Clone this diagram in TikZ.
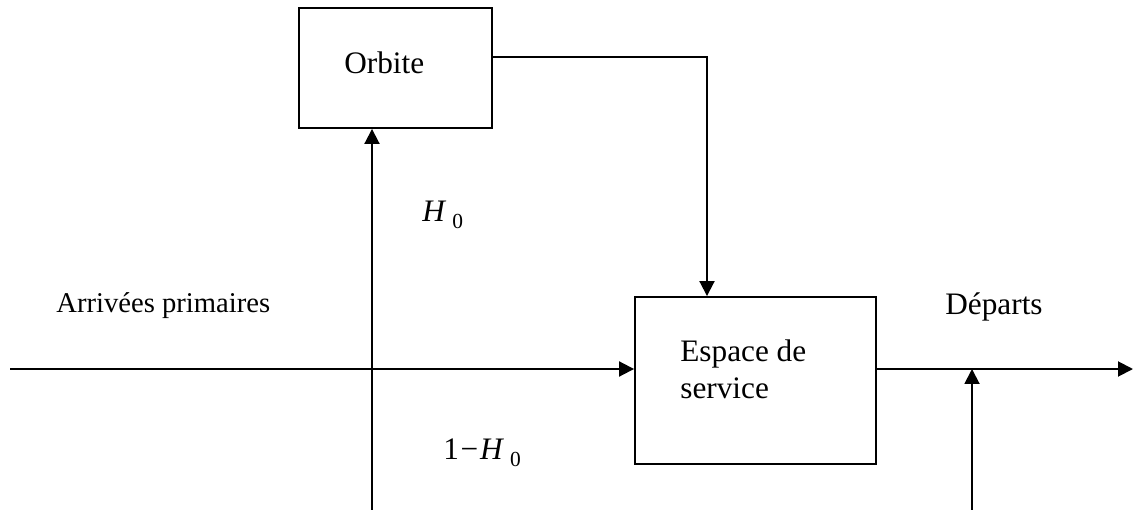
\documentclass[tikz,border=0pt]{standalone}
\usepackage{fontspec}
\setmainfont{Liberation Serif}
\usetikzlibrary{arrows.meta}

% subscript zero, set lower and smaller than the letter
\newcommand{\subzero}{\hspace{3.4pt}\raisebox{-4pt}{\fontsize{12.2}{12.2}\selectfont 0}}

\begin{document}
\begin{tikzpicture}[x=0.02cm, y=-0.02cm,
    lw/.style={line width=1.1pt},
    block/.style={draw, lw, rectangle, inner sep=0pt},
    txt/.style={anchor=base west, inner sep=0pt, font=\fontsize{17.8}{21}\selectfont},
    flow/.style={lw, -{Triangle[width=0.3cm, length=0.3cm]}},
    wire/.style={lw}]
  \useasboundingbox (0,0) rectangle (1133,510);

  % blocks
  \node[block, minimum width=3.86cm, minimum height=2.4cm] (orbite) at (395.5,68) {};
  \node[block, minimum width=4.82cm, minimum height=3.34cm] (espace) at (755.5,380.5) {};

  % block texts
  \node[txt] (orbiteText) at (344,74) {Orbite};
  \node[txt] (espaceText1) at (680,361) {Espace de};
  \node[txt] (espaceText2) at (680,398) {service};

  % flow labels
  \node[txt, font=\fontsize{16.3}{20}\selectfont] (arrivees) at (56,312) {Arrivées primaires};
  \node[txt] (departs) at (945,314) {Départs};
  \node[txt] (hzero) at (422,221) {\textit{H}\subzero};
  \node[txt] (unmoins) at (443,459) {1\kern1pt−\kern1pt\textit{H}\subzero};

  % free ends of the connectors
  \coordinate (inL) at (10,369);
  \coordinate (outR) at (1133,369);
  \coordinate (upA) at (372,510);
  \coordinate (upB) at (972,510);
  \coordinate (ret) at (707,57);

  % primary arrivals into the service space
  \draw[flow] (inL) -- (inL -| espace.west);
  % departures
  \draw[flow] (espace.east |- outR) -- (outR);
  % branch towards the orbit
  \draw[flow] (upA) -- (upA |- orbite.south);
  % return from the orbit
  \draw[flow] (orbite.east |- ret) -| (ret |- espace.north);
  % second input onto the departures line
  \draw[flow] (upB) -- (upB |- outR);
\end{tikzpicture}
\end{document}
